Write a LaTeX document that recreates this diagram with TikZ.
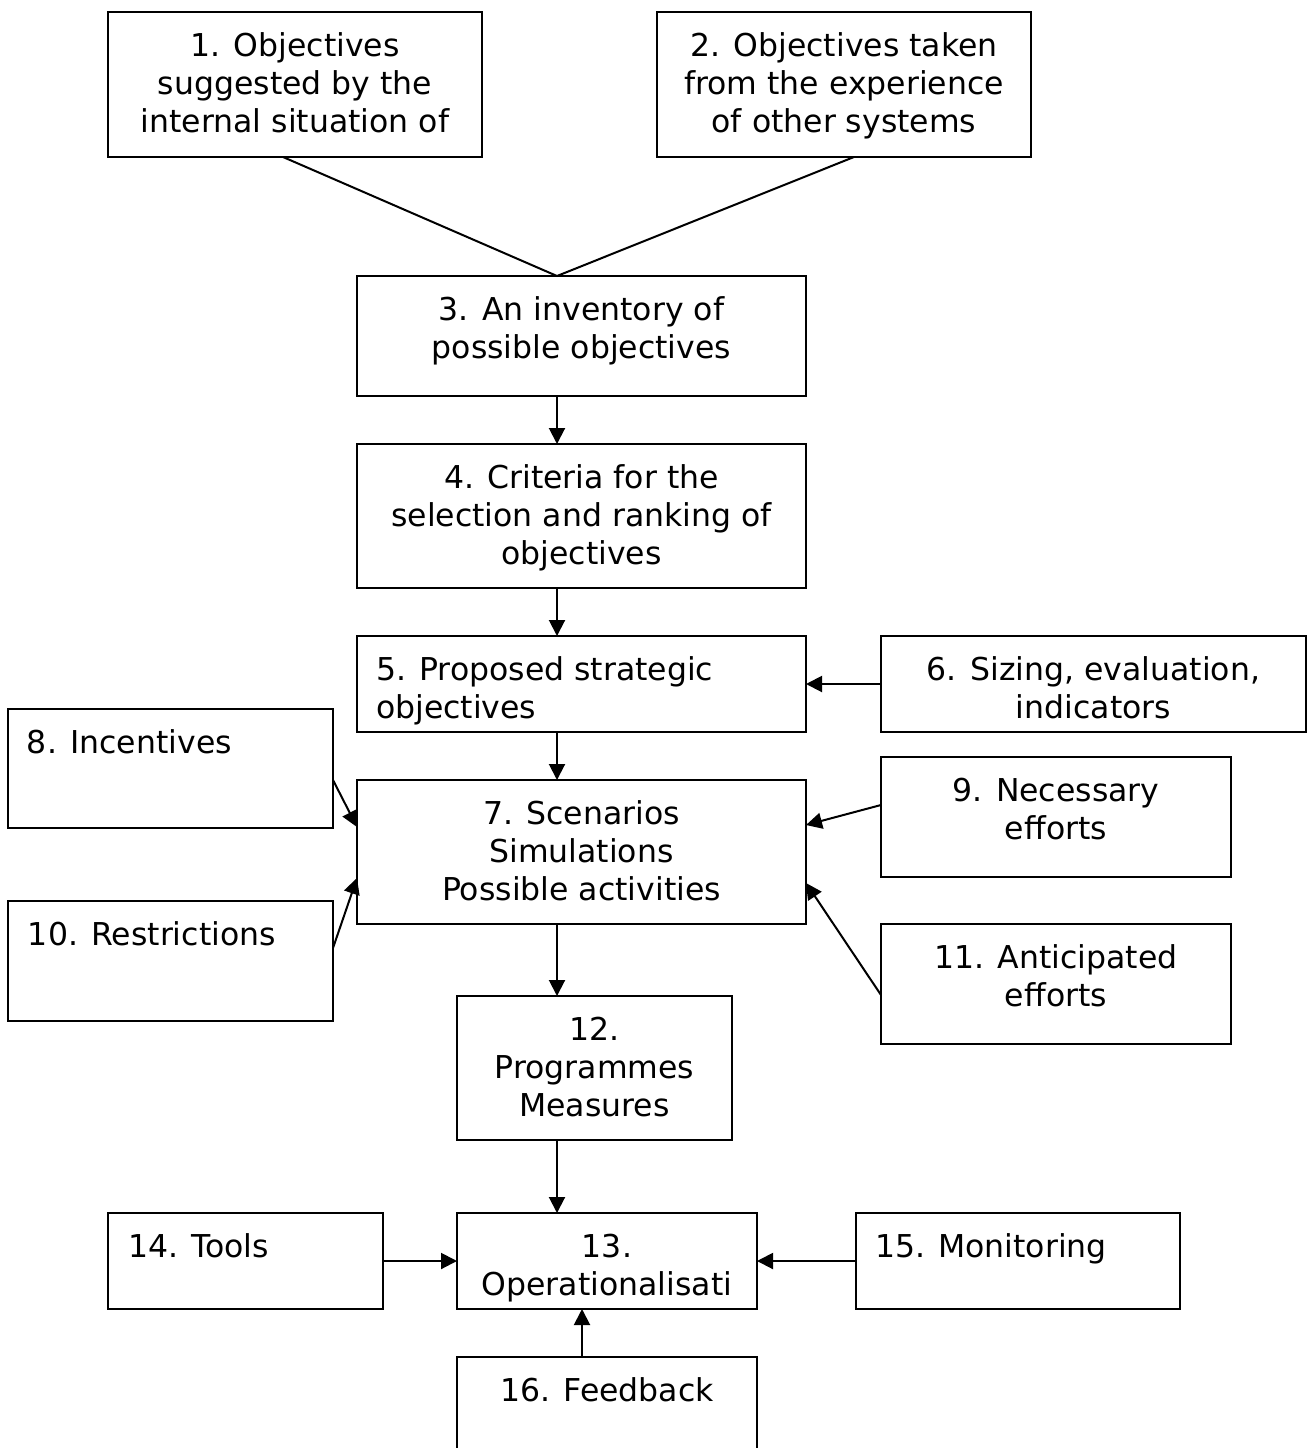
\documentclass[tikz,border=0pt]{standalone}
\usepackage{fontspec}
\setmainfont{DejaVu Sans}
\usetikzlibrary{arrows.meta,calc}

% text block of a box: width, height, lines
\newcommand{\midtext}[3]{\parbox[c][#2pt][t]{#1pt}{\centering\rule{0pt}{44pt}#3}}
% same, left aligned with an indent
\newcommand{\lefttext}[4]{\parbox[c][#2pt][t]{#1pt}{\raggedright\leftskip=#3pt\rule{0pt}{44pt}#4}}

\begin{document}
\begin{tikzpicture}[x=1pt,y=-1pt,>={Triangle[length=16pt,width=16pt]},
    font=\fontsize{31.5}{38}\selectfont,
    box/.style={draw,line width=2pt,inner sep=0pt,outer sep=0pt,anchor=north west},
    link/.style={line width=2pt}]
    \useasboundingbox (0,0) rectangle (1308,1448);

    % sources of objectives
    \node[box] (b1) at (108,12) {\midtext{374}{145}{1. Objectives\\suggested by the\\internal situation of}};
    \node[box] (b2) at (657,12) {\midtext{374}{145}{2. Objectives taken\\from the experience\\of other systems}};

    % main column
    \node[box] (b3) at (357,276) {\midtext{449}{120}{3. An inventory of\\possible objectives}};
    \node[box] (b4) at (357,444) {\midtext{449}{144}{4. Criteria for the\\selection and ranking of\\objectives}};
    \node[box] (b5) at (357,636) {\lefttext{449}{96}{19}{5. Proposed strategic\\objectives}};
    \node[box] (b7) at (357,780) {\midtext{449}{144}{7. Scenarios\\Simulations\\Possible activities}};
    \node[box] (b12) at (457,996) {\midtext{275}{144}{12.\\Programmes\\Measures}};
    \node[box] (b13) at (457,1213) {\midtext{300}{96}{13.\\Operationalisati}};
    \node[box] (b16) at (457,1357) {\midtext{300}{120}{16. Feedback}};

    % side boxes
    \node[box] (b6) at (881,636) {\midtext{425}{96}{6. Sizing, evaluation,\\indicators}};
    \node[box] (b8) at (8,709) {\lefttext{325}{119}{19}{8. Incentives}};
    \node[box] (b9) at (881,757) {\midtext{350}{120}{9. Necessary\\efforts}};
    \node[box] (b10) at (8,901) {\lefttext{325}{120}{20}{10. Restrictions}};
    \node[box] (b11) at (881,924) {\midtext{350}{120}{11. Anticipated\\efforts}};
    \node[box] (b14) at (108,1213) {\lefttext{275}{96}{20}{14. Tools}};
    \node[box] (b15) at (856,1213) {\lefttext{324}{96}{19}{15. Monitoring}};

    % connectors
    \coordinate (apex) at ([xshift=200pt]b3.north west);
    \draw[link] ([xshift=175pt]b1.south west) -- (apex) -- ([xshift=197pt]b2.south west);

    \draw[link,->] (b3.south -| apex) -- (b4.north -| apex);
    \draw[link,->] (b4.south -| apex) -- (b5.north -| apex);
    \draw[link,->] (b5.south -| apex) -- (b7.north -| apex);
    \draw[link,->] (b7.south -| apex) -- (b12.north -| apex);
    \draw[link,->] (b12.south -| apex) -- (b13.north -| apex);

    \draw[link,->] (b6.west) -- (b5.east);
    \draw[link,->] ([yshift=-71pt]b8.north east) -- ([yshift=-47pt]b7.north west);
    \draw[link,->] ([yshift=-47pt]b10.north east) -- ([yshift=-98pt]b7.north west);
    \draw[link,->] ([yshift=-48pt]b9.north west) -- ([yshift=-45pt]b7.north east);
    \draw[link,->] ([yshift=-71pt]b11.north west) -- ([yshift=-103pt]b7.north east);

    \draw[link,->] (b14.east) -- (b13.west);
    \draw[link,->] (b15.west) -- (b13.east);
    \draw[link,->] ([xshift=125pt]b16.north west) -- ([xshift=125pt]b13.south west);
\end{tikzpicture}
\end{document}
